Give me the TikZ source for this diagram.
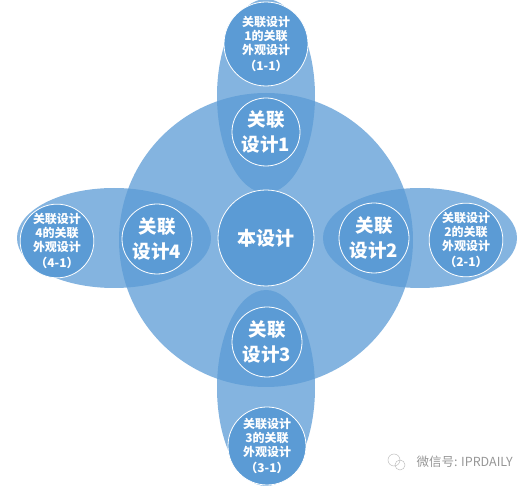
\documentclass[tikz,border=0pt]{standalone}
\usepackage{fontspec}
\newfontfamily\cjk{Noto Sans CJK SC}
\usetikzlibrary{positioning}
\definecolor{officeblue}{RGB}{91,155,213}
\definecolor{markgray}{RGB}{150,150,150}

\begin{document}
\begin{tikzpicture}[x=1pt,y=-1pt,
		blob/.style={fill=officeblue, fill opacity=0.75},
		rel/.style={circle, draw=white, line width=0.8pt, fill=officeblue, inner sep=0pt, text=white, align=center, font=\cjk\bfseries\fontsize{18.5}{25}\selectfont},
		ext/.style={rel, font=\cjk\bfseries\fontsize{12}{14.2}\selectfont}]
		\useasboundingbox (0,0) rectangle (531,486);
		\clip (0,0) rectangle (531,486);
		% Background shapes
		\fill[blob] (266,240) circle (147);
		\fill[blob] (266,96) ellipse (49 and 97);
		\fill[blob] (266,388) ellipse (49 and 98);
		\fill[blob] (114,238) ellipse (97 and 50);
		\fill[blob] (420,238) ellipse (97 and 50);
		% Center
		\node[rel, minimum size=96pt, font=\cjk\bfseries\fontsize{19}{24}\selectfont] (Main) at (266,238) {本设计} ;
		% Related designs
		\node[rel, minimum size=68pt] (Rel1) at (266,132) {关联\\设计1} ;
		\node[rel, minimum size=70pt] (Rel2) at (374,238) {关联\\设计2} ;
		\node[rel, minimum size=70pt] (Rel3) at (267,342) {关联\\设计3} ;
		\node[rel, minimum size=70pt] (Rel4) at (157,239) {关联\\设计4} ;
		% Outer designs
		\node[ext, minimum size=84pt] (Out1) at (266,44) {关联设计\\1的关联\\外观设计\\[2pt]（1-1）} ;
		\node[ext, minimum size=66pt] (Out2) at (466,240) {关联设计\\2的关联\\外观设计\\[2pt]（2-1）} ;
		\node[ext, minimum size=78pt] (Out3) at (267,446) {关联设计\\3的关联\\外观设计\\[2pt]（3-1）} ;
		\node[ext, minimum size=71pt] (Out4) at (57,241) {关联设计\\4的关联\\外观设计\\[2pt]（4-1）} ;
		% Watermark
		\node[text=markgray, font=\cjk\fontsize{12.5}{14}\selectfont, anchor=west] (Mark) at (413,462) {微信号: IPRDAILY} ;
		\draw[markgray!60, line width=0.5pt] (394,460) circle (6) (400,465) circle (5) ;
	\end{tikzpicture}
\end{document}
